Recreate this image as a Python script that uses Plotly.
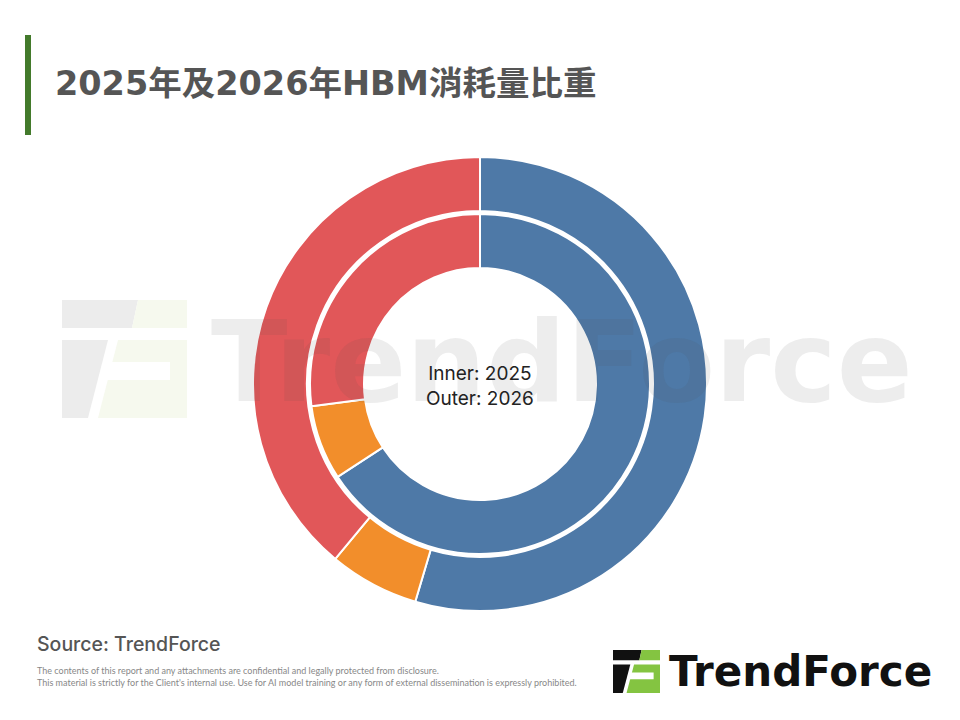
import plotly.graph_objects as go

# ---- data ----
segments = ["NVIDIA", "AMD", "Others"]
share_2025 = [65.8, 7.1, 27.1]   # inner ring
share_2026 = [54.6, 6.4, 39.0]   # outer ring
colors = ["#4e79a7", "#f28e2b", "#e15759"]

title_text = "2025年及2026年HBM消耗量比重"
center_text = "Inner: 2025<br>Outer: 2026"
source_text = "Source: TrendForce"
disclaimer = [
    "The contents of this report and any attachments are confidential and legally protected from disclosure.",
    "This material is strictly for the Client's internal use. Use for AI model training or any form of external dissemination is expressly prohibited.",
]

W, H = 960, 720
OFF = 8  # page body margin


def px(x):
    return (x - OFF) / W


def py(y):
    return 1 - (y - OFF) / H


fig = go.Figure()

# outer ring (2026)
cx, cy = 480, 384
r_out = 227
fig.add_trace(go.Pie(
    labels=segments, values=share_2026, sort=False, direction="clockwise", rotation=0,
    hole=173 / 227, marker=dict(colors=colors, line=dict(color="white", width=2)),
    textinfo="none", showlegend=False, name="2026",
    domain=dict(x=[px(cx - r_out), px(cx + r_out)], y=[py(cy + r_out), py(cy - r_out)]),
))
# inner ring (2025)
r_in = 170
fig.add_trace(go.Pie(
    labels=segments, values=share_2025, sort=False, direction="clockwise", rotation=0,
    hole=116 / 170, marker=dict(colors=colors, line=dict(color="white", width=2)),
    textinfo="none", showlegend=False, name="2025",
    domain=dict(x=[px(cx - r_in), px(cx + r_in)], y=[py(cy + r_in), py(cy - r_in)]),
))

shapes = []
# title accent bar
shapes.append(dict(type="rect", xref="paper", yref="paper",
                   x0=px(25), x1=px(31), y0=py(135), y1=py(35),
                   fillcolor="#437a2b", line=dict(width=0)))


def poly(points, x0, y0, w, h):
    s = ""
    for i, (u, v) in enumerate(points):
        s += ("M" if i == 0 else "L") + f"{px(x0 + u * w):.5f},{py(y0 + v * h):.5f} "
    return s + "Z"


def logo(x0, y0, w, h, dark, green, notch):
    parts = [
        ([(0, 0), (0.608, 0), (0.56, 0.237), (0, 0.237)], dark),
        ([(0.608, 0), (1, 0), (1, 0.237), (0.56, 0.237)], green),
        ([(0, 0.339), (0.368, 0.339), (0.208, 1), (0, 1)], dark),
        ([(0.448, 0.339), (1, 0.339), (1, 1), (0.288, 1)], green),
        ([(0.38, 0.525), (0.864, 0.525), (0.864, 0.678), (0.34, 0.678)], notch),
    ]
    out = []
    for pts, col in parts:
        out.append(dict(type="path", xref="paper", yref="paper", path=poly(pts, x0, y0, w, h),
                        fillcolor=col, line=dict(width=0), layer="above"))
    return out


# watermark logo icon
shapes += logo(62, 300, 125, 118, "#ececec", "#f6f9ee", "white")
# bottom-right logo icon
shapes += logo(613, 650, 47, 43, "#111111", "#84c441", "white")

annotations = [
    dict(text=title_text, x=px(53), y=py(84), xref="paper", yref="paper", xanchor="left", yanchor="middle",
         showarrow=False, font=dict(family="DejaVu Sans, Noto Sans CJK TC", size=33.5, color="#555555", weight="bold")),
    # watermark word
    dict(text="TrendForce", x=px(209), y=py(362), xref="paper", yref="paper", xanchor="left", yanchor="middle",
         showarrow=False, font=dict(family="DejaVu Sans", size=112, color="rgba(80,80,80,0.1)", weight="bold")),
    dict(text=center_text, x=px(480), y=py(386), xref="paper", yref="paper", xanchor="center", yanchor="middle",
         showarrow=False, font=dict(family="Inter", size=19, color="#222222")),
    dict(text=source_text, x=px(35), y=py(644), xref="paper", yref="paper", xanchor="left", yanchor="middle",
         showarrow=False, font=dict(family="Inter", size=19.5, color="#555555", weight=500)),
    dict(text=disclaimer[0], x=px(35), y=py(670), xref="paper", yref="paper", xanchor="left", yanchor="middle",
         showarrow=False, font=dict(family="Lato", size=9, color="#888888")),
    dict(text=disclaimer[1], x=px(35), y=py(682), xref="paper", yref="paper", xanchor="left", yanchor="middle",
         showarrow=False, font=dict(family="Lato", size=9, color="#888888")),
    dict(text="TrendForce", x=px(667), y=py(671), xref="paper", yref="paper", xanchor="left", yanchor="middle",
         showarrow=False, font=dict(family="DejaVu Sans", size=42, color="#111111", weight="bold")),
]

fig.update_layout(
    width=W, height=H, margin=dict(l=0, r=0, t=0, b=0),
    paper_bgcolor="white", plot_bgcolor="white",
    shapes=shapes, annotations=annotations, showlegend=False,
)

fig.write_html("out.html")
